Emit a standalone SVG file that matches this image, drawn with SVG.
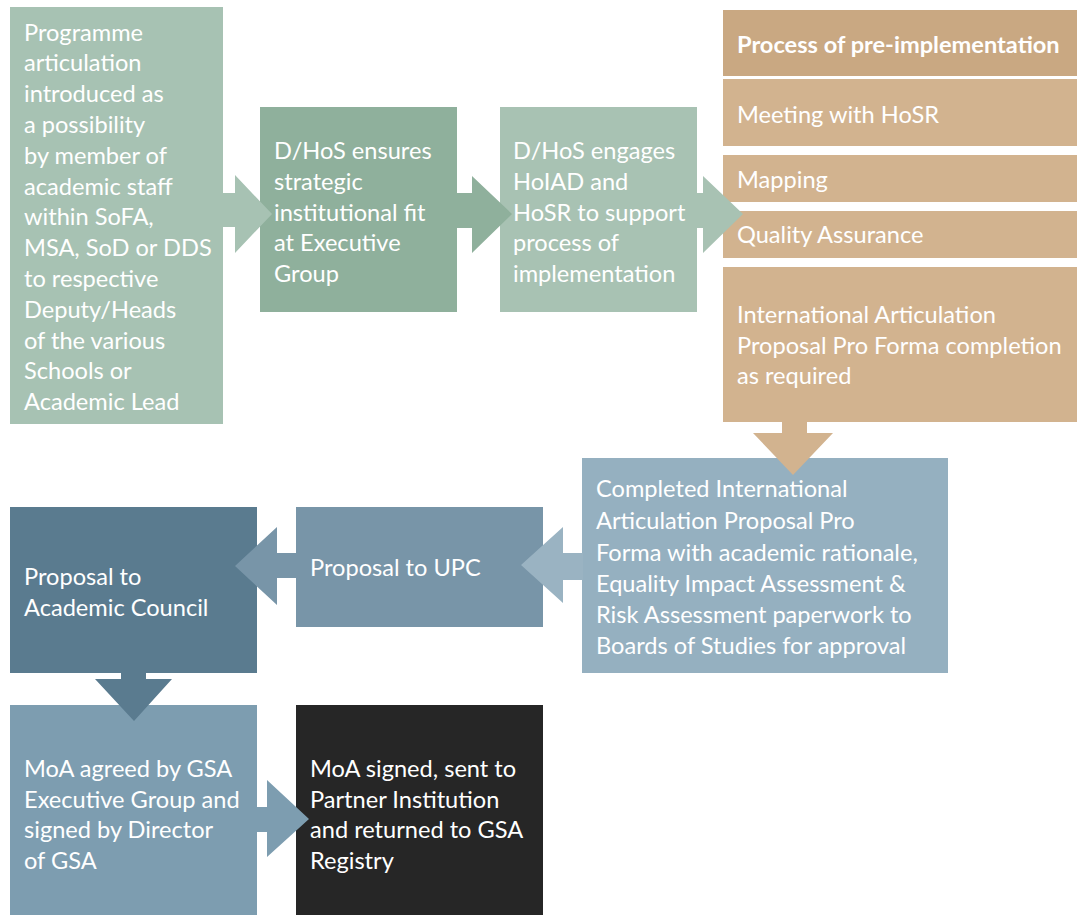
<svg xmlns="http://www.w3.org/2000/svg" width="1077" height="915" viewBox="0 0 1077 915">
<style>
text{font-family:Lato,"Open Sans","Liberation Sans",sans-serif;font-size:23.6px;fill:#ffffff}
.b{font-weight:bold}
</style>
<rect x="0" y="0" width="1077" height="915" fill="#ffffff"/>
<g id="n1"><rect x="10" y="7" width="213" height="417" fill="#a7c2b3"/>
<text x="24"><tspan x="24" y="40.5">Programme</tspan><tspan x="24" y="71.3">articulation</tspan><tspan x="24" y="102.1">introduced as</tspan><tspan x="24" y="132.9">a possibility</tspan><tspan x="24" y="163.7">by member of</tspan><tspan x="24" y="194.5">academic staff</tspan><tspan x="24" y="225.3">within SoFA,</tspan><tspan x="24" y="256.1">MSA, SoD or DDS</tspan><tspan x="24" y="286.9">to respective</tspan><tspan x="24" y="317.7">Deputy/Heads</tspan><tspan x="24" y="348.5">of the various</tspan><tspan x="24" y="379.3">Schools or</tspan><tspan x="24" y="410.1">Academic Lead</tspan></text></g>
<g id="n2"><rect x="260" y="107" width="197" height="205" fill="#8fb09c"/>
<text><tspan x="274" y="159">D/HoS ensures</tspan><tspan x="274" y="189.8">strategic</tspan><tspan x="274" y="220.6">institutional fit</tspan><tspan x="274" y="251.4">at Executive</tspan><tspan x="274" y="282.2">Group</tspan></text></g>
<g id="n3"><rect x="500" y="107" width="197" height="205" fill="#a8c2b3"/>
<text><tspan x="513" y="159">D/HoS engages</tspan><tspan x="513" y="189.8">HoIAD and</tspan><tspan x="513" y="220.6">HoSR to support</tspan><tspan x="513" y="251.4">process of</tspan><tspan x="513" y="282.2">implementation</tspan></text></g>
<g id="n4"><rect x="723" y="10" width="354" height="66" fill="#c9a882"/>
<text class="b" x="737" y="53">Process of pre-implementation</text></g>
<g id="n5"><rect x="723" y="79" width="354" height="67" fill="#d2b38f"/>
<text x="737" y="123">Meeting with HoSR</text></g>
<g id="n6"><rect x="723" y="155" width="354" height="47" fill="#d2b38f"/>
<text x="737" y="188">Mapping</text></g>
<g id="n7"><rect x="723" y="211" width="354" height="47" fill="#d2b38f"/>
<text x="737" y="243">Quality Assurance</text></g>
<g id="n8"><rect x="723" y="267" width="354" height="155" fill="#d2b38f"/>
<text><tspan x="737" y="323">International Articulation</tspan><tspan x="737" y="354">Proposal Pro Forma completion</tspan><tspan x="737" y="384">as required</tspan></text></g>
<g id="n9"><rect x="582" y="458" width="366" height="215" fill="#95b0c0"/>
<text><tspan x="596" y="497">Completed International</tspan><tspan x="596" y="529">Articulation Proposal Pro</tspan><tspan x="596" y="561">Forma with academic rationale,</tspan><tspan x="596" y="592">Equality Impact Assessment &amp;</tspan><tspan x="596" y="623">Risk Assessment paperwork to</tspan><tspan x="596" y="654">Boards of Studies for approval</tspan></text></g>
<g id="n10"><rect x="296" y="507" width="247" height="120" fill="#7895a8"/>
<text x="310" y="576">Proposal to UPC</text></g>
<g id="n11"><rect x="10" y="507" width="247" height="166" fill="#5a7b8f"/>
<text><tspan x="24" y="585">Proposal to</tspan><tspan x="24" y="616">Academic Council</tspan></text></g>
<g id="n12"><rect x="10" y="705" width="247" height="210" fill="#7d9db0"/>
<text><tspan x="24" y="777">MoA agreed by GSA</tspan><tspan x="24" y="807.5">Executive Group and</tspan><tspan x="24" y="838">signed by Director</tspan><tspan x="24" y="868.5">of GSA</tspan></text></g>
<g id="n13"><rect x="296" y="705" width="247" height="210" fill="#262626"/>
<text><tspan x="310" y="777">MoA signed, sent to</tspan><tspan x="310" y="807.5">Partner Institution</tspan><tspan x="310" y="838">and returned to GSA</tspan><tspan x="310" y="868.5">Registry</tspan></text></g>
<g id="connectors">
<polygon points="222,193 235,193 235,175 272,214 235,253 235,227 222,227" fill="#a7c2b3"/>
<polygon points="456,193 472,193 472,176 512,214 472,253 472,228 456,228" fill="#8fb09c"/>
<polygon points="697,193 703,193 703,176 743,214 703,253 703,228 697,228" fill="#a8c2b3"/>
<polygon points="782,421 807,421 807,433 833,433 793,475 753,433 782,433" fill="#d2b38f"/>
<polygon points="583,553 563,553 563,527 521,565 563,603 563,580 583,580" fill="#9ab3c2"/>
<polygon points="297,553 277,553 277,527 235,566 277,605 277,578 297,578" fill="#7895a8"/>
<polygon points="121,672 146,672 146,679 172,679 134,721 95,679 121,679" fill="#5a7b8f"/>
<polygon points="256,807 267,807 267,780 309,819 267,857 267,832 256,832" fill="#7d9db0"/>
</g>
</svg>
